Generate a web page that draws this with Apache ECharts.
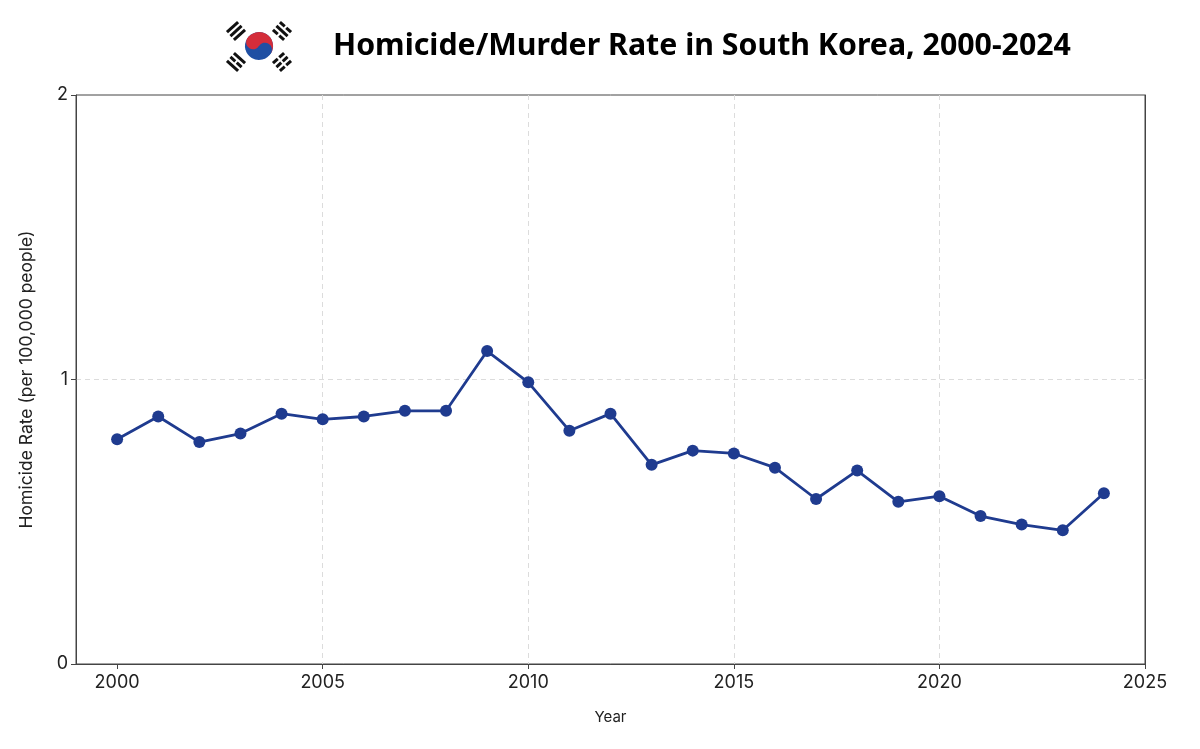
<!DOCTYPE html>
<html>
<head>
<meta charset="utf-8">
<script src="https://cdn.jsdelivr.net/npm/echarts@6/dist/echarts.min.js"></script>
<style>
  html, body { margin: 0; padding: 0; background: #fff; }
  #main { width: 1200px; height: 749px; }
</style>
</head>
<body>
<div id="main"></div>
<script>
// values
var years = [2000, 2001, 2002, 2003, 2004, 2005, 2006, 2007, 2008, 2009, 2010, 2011, 2012,
             2013, 2014, 2015, 2016, 2017, 2018, 2019, 2020, 2021, 2022, 2023, 2024];
var rates = [0.79, 0.87, 0.78, 0.81, 0.88, 0.86, 0.87, 0.89, 0.89, 1.10, 0.99, 0.82, 0.88,
             0.70, 0.75, 0.74, 0.69, 0.58, 0.68, 0.57, 0.59, 0.52, 0.49, 0.47, 0.60];
var xTicks = [2000, 2005, 2010, 2015, 2020, 2025];

var points = years.map(function (y, i) { return [y, rates[i]]; });

var labelFont = 'Inter, "Open Sans", sans-serif';
var lineBlue = '#1f3b8f';
var frame = '#444';

// little trigram of the flag: pattern of 3 bars, 1 = solid, 0 = broken
function trigram(cx, cy, angle, pattern) {
    var w = 15, h = 3, gap = 2.2, kids = [];
    for (var i = 0; i < 3; i++) {
        var y = -(3 * h + 2 * gap) / 2 + i * (h + gap);
        if (pattern[i]) {
            kids.push({ type: 'rect', shape: { x: -w / 2, y: y, width: w, height: h }, style: { fill: '#111' } });
        } else {
            kids.push({ type: 'rect', shape: { x: -w / 2, y: y, width: 6.5, height: h }, style: { fill: '#111' } });
            kids.push({ type: 'rect', shape: { x: 1, y: y, width: 6.5, height: h }, style: { fill: '#111' } });
        }
    }
    return { type: 'group', x: cx, y: cy, rotation: angle, children: kids };
}

var chart = echarts.init(document.getElementById('main'));

var flagR = 14;
var option = {
    backgroundColor: '#fff',
    animation: false,
    graphic: [
        {
            type: 'text',
            left: 333,
            top: 31,
            style: {
                text: 'Homicide/Murder Rate in South Korea, 2000-2024',
                font: 'bold 30.3px "Noto Sans", sans-serif',
                fill: '#000'
            }
        },
        {
            type: 'group',
            x: 259, y: 46,
            rotation: -0.55,
            children: [
                { type: 'circle', shape: { cx: 0, cy: 0, r: flagR }, style: { fill: '#1f4fa3' } },
                { type: 'sector', shape: { cx: 0, cy: 0, r: flagR, startAngle: Math.PI, endAngle: Math.PI * 2 }, style: { fill: '#d42d3a' } },
                { type: 'circle', shape: { cx: -flagR / 2, cy: 0, r: flagR / 2 }, style: { fill: '#d42d3a' } },
                { type: 'circle', shape: { cx: flagR / 2, cy: 0, r: flagR / 2 }, style: { fill: '#1f4fa3' } }
            ]
        },
        trigram(236, 31, Math.PI / 4 - 0.05, [1, 1, 1]),
        trigram(282, 31, -Math.PI / 4 + 0.05, [0, 1, 0]),
        trigram(236, 62, -Math.PI / 4 + 0.05, [1, 0, 1]),
        trigram(282, 62, Math.PI / 4 - 0.05, [0, 0, 0])
    ],
    grid: {
        left: 76,
        right: 55,
        top: 95,
        bottom: 85,
        show: true,
        borderColor: frame,
        borderWidth: 1
    },
    xAxis: [{
        type: 'value',
        min: 1999,
        max: 2025,
        name: 'Year',
        nameLocation: 'middle',
        nameGap: 46,
        nameTextStyle: { fontFamily: labelFont, fontSize: 15, color: '#222' },
        axisLine: { show: true, lineStyle: { color: frame, width: 1 } },
        axisTick: { show: true, length: 5, customValues: xTicks, lineStyle: { color: frame } },
        axisLabel: {
            customValues: xTicks,
            fontFamily: labelFont, fontSize: 18, color: '#222', margin: 10,
            formatter: function (v) { return String(v); }
        },
        splitLine: { show: true, showMinLine: false, showMaxLine: false,
                     lineStyle: { color: '#dcdcdc', type: [5, 4], width: 1 } }
    }, {
        type: 'value',
        position: 'top',
        min: 1999,
        max: 2025,
        axisLine: { show: true, lineStyle: { color: frame, width: 1 } },
        axisTick: { show: false },
        axisLabel: { show: false },
        splitLine: { show: false }
    }],
    yAxis: [{
        type: 'value',
        min: 0,
        max: 2,
        interval: 1,
        name: 'Homicide Rate (per 100,000 people)',
        nameLocation: 'middle',
        nameGap: 40,
        nameTextStyle: { fontFamily: labelFont, fontSize: 17.5, color: '#222' },
        axisLine: { show: true, lineStyle: { color: frame, width: 1 } },
        axisTick: { show: true, length: 5, lineStyle: { color: frame } },
        axisLabel: { fontFamily: labelFont, fontSize: 18, color: '#222', margin: 8 },
        splitLine: { show: true, showMinLine: false, showMaxLine: false,
                     lineStyle: { color: '#dcdcdc', type: [5, 4], width: 1 } }
    }, {
        type: 'value',
        position: 'right',
        min: 0,
        max: 2,
        interval: 1,
        axisLine: { show: true, lineStyle: { color: frame, width: 1 } },
        axisTick: { show: false },
        axisLabel: { show: false },
        splitLine: { show: false }
    }],
    series: [{
        type: 'line',
        data: points,
        symbol: 'circle',
        symbolSize: 12,
        lineStyle: { color: lineBlue, width: 2.8 },
        itemStyle: { color: lineBlue }
    }]
};

chart.setOption(option);
</script>
</body>
</html>
